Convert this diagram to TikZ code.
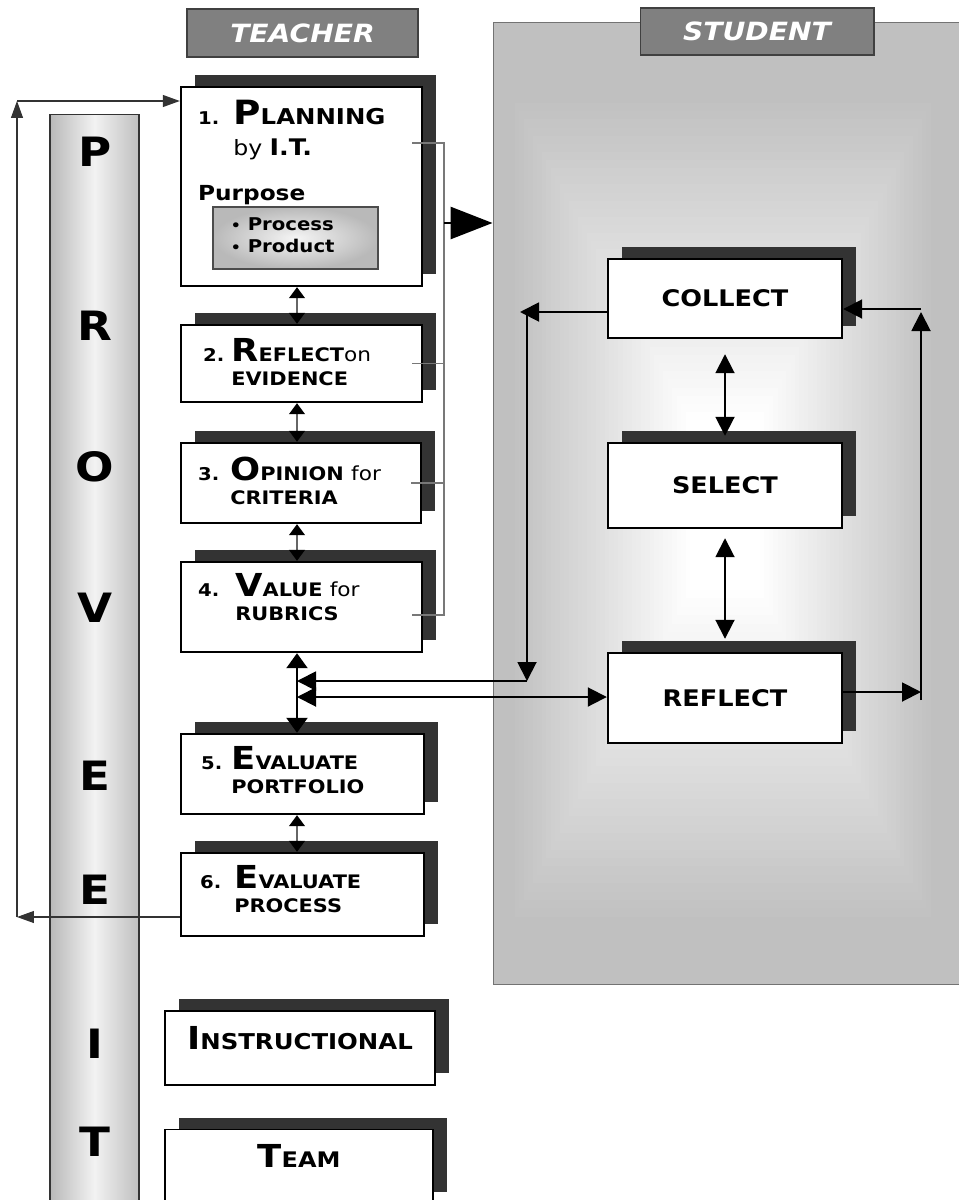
\documentclass[tikz,border=0pt]{standalone}
\usepackage{fontspec}
\setmainfont{DejaVu Sans}[FakeStretch=1.12]
\usetikzlibrary{arrows.meta,positioning,shadows,calc}
\definecolor{panel}{RGB}{192,192,192}
\definecolor{shadowgrey}{RGB}{51,51,51}
\definecolor{tabgrey}{RGB}{128,128,128}
\definecolor{wire}{RGB}{120,120,120}
% small-caps look by hand
\newcommand{\capinit}[1]{{\fontsize{18}{18}\selectfont #1}}
\newcommand{\capword}[1]{{\fontsize{10.6}{12}\selectfont #1}}
\newcommand{\lowword}[1]{{\mdseries\fontsize{11}{12}\selectfont #1}}
\newcommand{\stepno}[1]{{\fontsize{10}{12}\selectfont #1}}
\newcommand{\steplabel}[4]{%
  \begin{tabular}[t]{@{}l@{\hspace{#2}}l@{}}
    \stepno{#1} & #3\\
    & #4
  \end{tabular}}
\tikzset{
  >={Triangle[length=0.38cm,width=0.38cm]},
  tbox/.style={draw=black,line width=1.4pt,fill=white,inner sep=0pt,
    drop shadow={opacity=1,shadow xshift=0.28cm,shadow yshift=0.24cm,fill=shadowgrey}},
  sbox/.style={tbox,minimum width=4.68cm,font=\fontsize{13}{14}\selectfont\bfseries},
  membox/.style={tbox,line width=0.8pt,text depth=0.42cm,minimum height=1.48cm,
    font=\bfseries},
  tablabel/.style={draw=black!75,line width=0.6pt,fill=tabgrey,text=white,inner sep=0pt,
    font=\fontsize{14.3}{16}\selectfont\bfseries\itshape},
  panelbox/.style={draw=black!55,line width=0.6pt,fill=panel,inner sep=0pt},
  column/.style={draw=black!80,line width=0.6pt,inner sep=0pt,
    left color=gray!55,right color=gray!50,middle color=gray!10},
  vletter/.style={inner sep=0pt,font=\fontsize{23}{23}\selectfont\bfseries},
  steptext/.style={anchor=base west,inner sep=0pt,font=\fontsize{10.6}{13.6}\selectfont\bfseries},
  pbox/.style={draw=black!70,line width=0.6pt,inner sep=0pt,inner color=gray!8,outer color=gray!55,
    minimum width=3.3cm,minimum height=1.24cm},
  link/.style={<->,draw=black!60,line width=0.6pt,>={Triangle[length=0.22cm,width=0.32cm,color=black]}},
  thicklink/.style={<->,line width=1.3pt,>={Triangle[length=0.3cm,width=0.42cm]}},
  flow/.style={->,line width=1.1pt},
  backflow/.style={->,draw=black!80,line width=0.6pt,>={Triangle[length=0.34cm,width=0.24cm]}},
  stub/.style={draw=wire,line width=0.6pt},
  bigflow/.style={->,line width=1.6pt,>={Triangle[length=0.84cm,width=0.64cm]}},
}
\begin{document}
\begin{tikzpicture}[x=0.02cm,y=-0.02cm]
  \useasboundingbox (0,0) rectangle (959,1200);
  \fill[white] (0,0) rectangle (959,1200);

  % student side
  \node[panelbox,minimum width=9.38cm,minimum height=19.26cm] (student) at (727.5,503.5) {};
  \foreach \i in {0,...,40}{
    \pgfmathsetmacro{\xa}{510+\i*180/40}
    \pgfmathsetmacro{\xb}{935-\i*175/40}
    \pgfmathsetmacro{\ya}{95+\i*325/40}
    \pgfmathsetmacro{\yb}{925-\i*335/40}
    \pgfmathtruncatemacro{\pc}{100-\i*100/40}
    \fill[panel!\pc!white] (\xa,\ya) rectangle (\xb,\yb);
  }
  \node[tablabel,minimum width=4.68cm,minimum height=0.94cm] (studenttab) at (757,31.5) {STUDENT};

  % PROVE IT column
  \node[column,minimum width=1.78cm,minimum height=21.92cm] (prove) at (94.5,662) {};
  \foreach \l/\y [count=\k] in {P/152,R/326,O/467,V/608,E/776,E/890,I/1044,T/1142}
    \node[vletter] (ltr\k) at (95,\y) {\l};

  % teacher side
  \node[tablabel,minimum width=4.62cm,minimum height=0.96cm] (teachertab) at (302.5,33) {TEACHER};
  \node[tbox,minimum width=4.82cm,minimum height=3.98cm] (t1) at (301.5,186.5) {};
  \node[tbox,minimum width=4.82cm,minimum height=1.54cm] (t2) at (301.5,363.5) {};
  \node[tbox,minimum width=4.8cm,minimum height=1.6cm] (t3) at (301,483) {};
  \node[tbox,minimum width=4.82cm,minimum height=1.8cm] (t4) at (301.5,607) {};
  \node[tbox,minimum width=4.86cm,minimum height=1.6cm] (t5) at (302.5,774) {};
  \node[tbox,minimum width=4.86cm,minimum height=1.66cm] (t6) at (302.5,894.5) {};

  \node[steptext,font=\fontsize{10.6}{17.6}\selectfont\bfseries] (t1-txt) at ($(t1.north west)+(18,39)$)
    {\steplabel{1.}{0.28cm}{{\fontsize{19}{19}\selectfont P}{\fontsize{12.4}{14}\selectfont LANNING}}%
      {{\mdseries\fontsize{12}{14}\selectfont by} {\fontsize{13}{14}\selectfont I.T.}}};
  \node[pbox] (pbox) at (295.5,238) {};
  \node[anchor=base west,inner sep=0pt,font=\fontsize{11.8}{14}\selectfont\bfseries] (purpose)
    at ($(t1.north west)+(18,115)$) {Purpose};
  \node[anchor=base west,inner sep=0pt,font=\fontsize{10}{12.5}\selectfont\bfseries] (aims)
    at ($(pbox.north west)+(18,24)$)
    {\begin{tabular}[t]{@{}l@{}}{\fontsize{8}{8}\selectfont\textbullet}~Process\\{\fontsize{8}{8}\selectfont\textbullet}~Product\end{tabular}};
  \node[steptext] (t2-txt) at ($(t2.north west)+(23,38)$)
    {\steplabel{2.}{0.14cm}{\capinit{R}\capword{EFLECT}\lowword{on}}{\capword{EVIDENCE}}};
  \node[steptext] (t3-txt) at ($(t3.north west)+(18,39)$)
    {\steplabel{3.}{0.22cm}{\capinit{O}\capword{PINION} \lowword{for}}{\capword{CRITERIA}}};
  \node[steptext] (t4-txt) at ($(t4.north west)+(18,36)$)
    {\steplabel{4.}{0.32cm}{\capinit{V}\capword{ALUE} \lowword{for}}{\capword{RUBRICS}}};
  \node[steptext] (t5-txt) at ($(t5.north west)+(21,37)$)
    {\steplabel{5.}{0.18cm}{\capinit{E}\capword{VALUATE}}{\capword{PORTFOLIO}}};
  \node[steptext] (t6-txt) at ($(t6.north west)+(20,37)$)
    {\steplabel{6.}{0.26cm}{\capinit{E}\capword{VALUATE}}{\capword{PROCESS}}};

  \node[membox,minimum width=5.4cm] (instr) at (300,1048)
    {\capinit{I}{\fontsize{12.4}{14}\selectfont NSTRUCTIONAL}};
  \node[membox,minimum width=5.36cm] (team) at (299,1166.5)
    {\capinit{T}{\fontsize{12.2}{14}\selectfont EAM}};

  % student steps
  \node[sbox,minimum height=1.58cm] (collect) at (725,298.5) {COLLECT};
  \node[sbox,minimum height=1.7cm] (select) at (725,485.5) {SELECT};
  \node[sbox,minimum height=1.8cm] (reflect) at (725,698) {REFLECT};

  % teacher chain
  \coordinate (spine) at (297,0);
  \foreach \a/\b in {t1/t2,t2/t3,t3/t4,t5/t6}
    \draw[link] (\a.south -| spine) -- (\b.north -| spine);
  \draw[thicklink] (t4.south -| spine) -- (t5.north -| spine);

  % bus to the student side
  \coordinate (bus top) at (444,143);
  \coordinate (bus bot) at (444,615);
  \coordinate (purp) at (444,223);
  \draw[stub] ([xshift=-0.22cm]t1.east |- bus top) -- (bus top) -- (bus bot) -- ([xshift=-0.22cm]t4.east |- bus bot);
  \foreach \n in {t2,t3}
    \draw[stub] ([xshift=-0.22cm]\n.east) -- (\n.east -| bus top);
  \draw[bigflow] (purp) -- (student.west |- purp);

  % feedback loop round the column
  \coordinate (back top) at (17,101);
  \coordinate (back bot) at (17,917);
  \draw[backflow] (t6.west |- back bot) -- (back bot);
  \draw[backflow] (back bot) -- (back top);
  \draw[backflow] (back top) -- (t1.west |- back top);

  % student loops
  \coordinate (ltop) at (527,312);
  \coordinate (lbot) at (527,681);
  \coordinate (rtop) at (921,309);
  \coordinate (rbot) at (921,692);
  \coordinate (rin) at (297,697);
  \draw[flow] (collect.west |- ltop) -- ([xshift=-0.14cm]ltop);
  \draw[flow] (ltop) -- (lbot);
  \draw[flow] (lbot) -- (lbot -| spine);
  \draw[flow,<->] (rin) -- (reflect.west |- rin);
  \draw[flow] (reflect.east |- rbot) -- (rbot);
  \draw[flow] ([yshift=-0.16cm]rbot) -- ([yshift=-0.06cm]rtop);
  \draw[flow] (rtop) -- (collect.east |- rtop);
  \draw[flow,<->] ([yshift=-0.3cm]collect.south) -- ([yshift=0.12cm]select.north);
  \draw[flow,<->] ([yshift=-0.18cm]select.south) -- ([yshift=0.26cm]reflect.north);
\end{tikzpicture}
\end{document}
